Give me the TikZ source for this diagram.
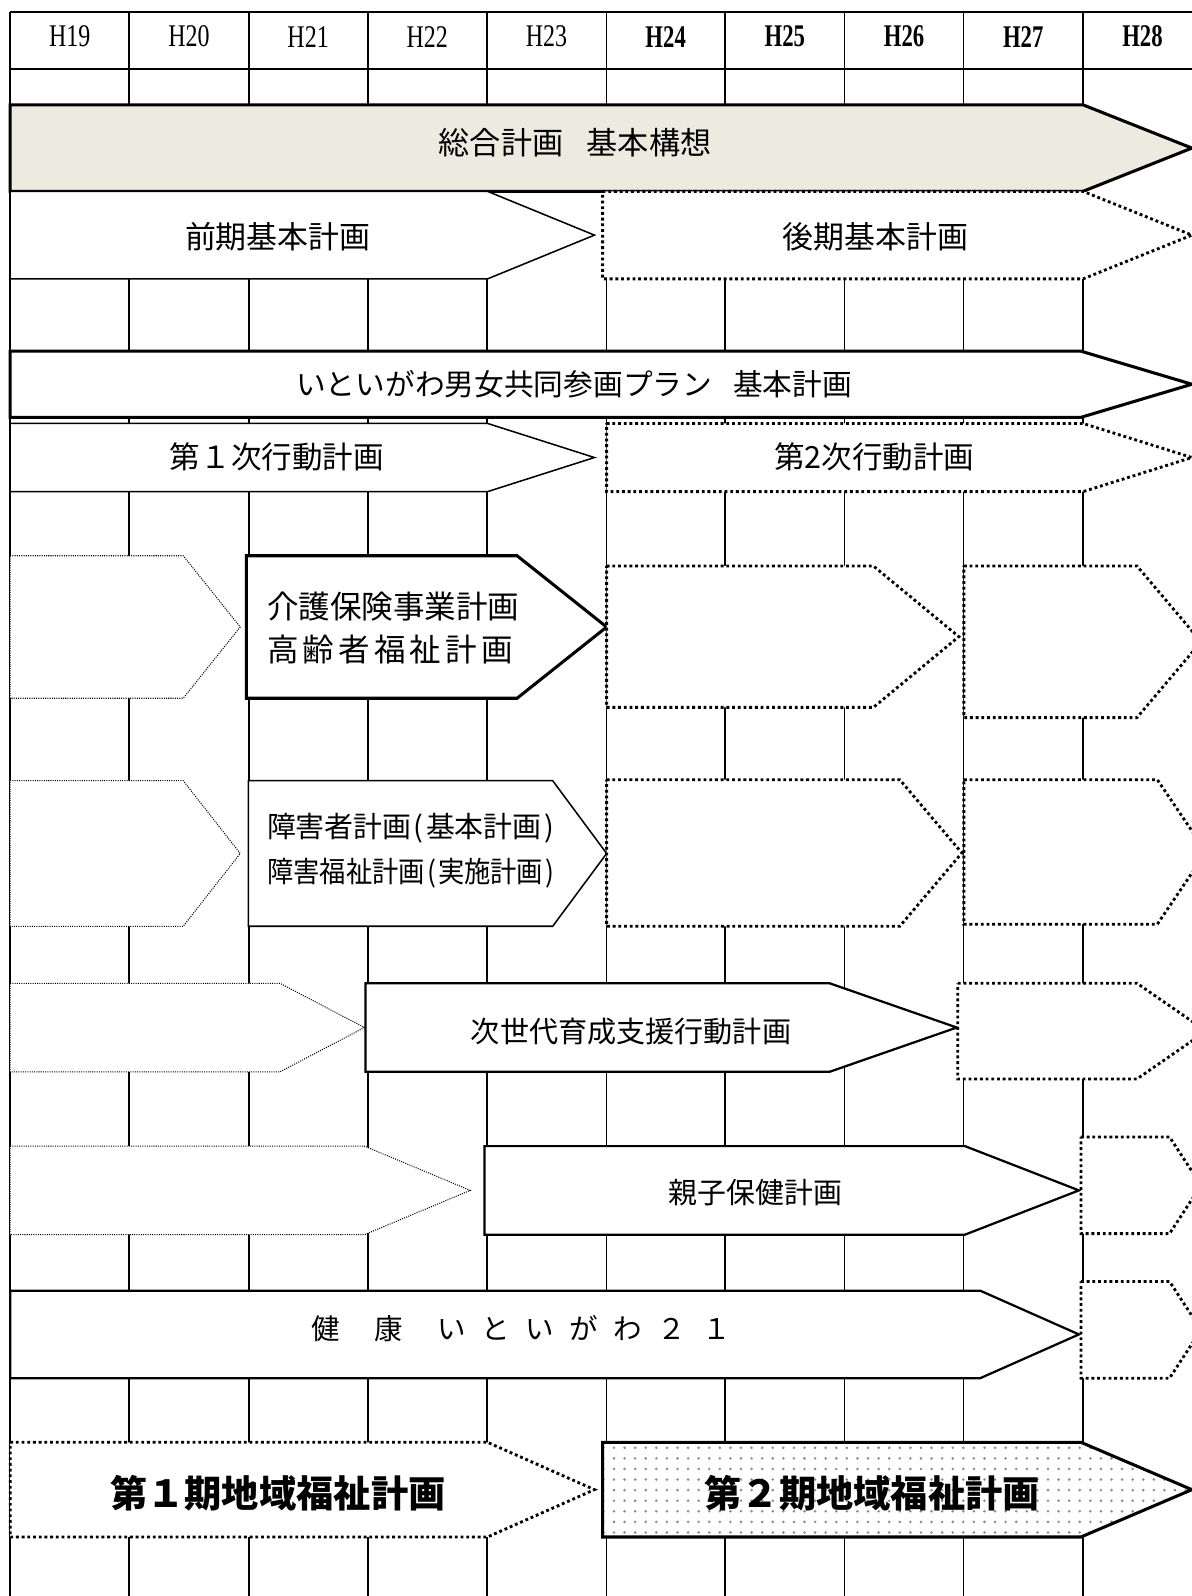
\documentclass[tikz,border=0pt]{standalone}
\usepackage{fontspec}
\usetikzlibrary{patterns.meta}
\newfontfamily\jp{Noto Sans CJK JP}
\newfontfamily\hdrfont{Liberation Serif}
\definecolor{beige}{RGB}{237,234,224}
\newcommand\pentshape[6][]{\draw[#1] (#2,#3) -- (#4,#3) -- (#5,{(#3+#6)/2}) -- (#4,#6) -- (#2,#6) -- cycle;}
\newcommand\jfs[1]{\jp\fontsize{#1}{#1}\selectfont}
\newcommand\hp[1]{\makebox[0.5em]{#1}}
\tikzset{
  gridthick/.style={line width=1pt},
  gridthin/.style={line width=0.5pt},
  solidbox/.style={draw, fill=white, line width=0.75pt, line join=miter},
  midbox/.style={draw, fill=white, line width=1.1pt, line join=miter},
  thickbox/.style={draw, fill=white, line width=1.5pt, line join=miter},
  dotbox/.style={draw, fill=white, line width=1.4pt, dash pattern=on 1.4pt off 1.4pt},
  thindot/.style={draw, fill=white, line width=0.5pt, dash pattern=on 0.5pt off 0.6pt},
  hdr/.style={inner sep=0pt, font=\hdrfont\fontsize{15.5}{15.5}\selectfont},
  lbl/.style={inner sep=0pt},
}
\begin{document}
\begin{tikzpicture}[x=0.5pt, y=-0.5pt]
\useasboundingbox (0,0) rectangle (1171,1568);
\fill[white] (0,0) rectangle (1171,1568);
% grid
\foreach \x/\s in {10/gridthick,127.1/gridthick,244.2/gridthick,361.3/gridthick,478.4/gridthick,595.5/gridthin,712.6/gridthick,829.7/gridthin,946.8/gridthin,1063.9/gridthick}
  \draw[\s] (\x,12) -- (\x,1568);
\draw[gridthick] (10,12) -- (1171,12);
\draw[gridthick] (10,68) -- (1171,68);
% header labels
\foreach \i/\t in {0/H19,1/H20,2/H21,3/H22,4/H23}
  \node[hdr] (h\i) at ({68.5+117.1*\i},36) {\scalebox{0.76}[1]{\t}};
\foreach \i/\t in {5/H24,6/H25,7/H26,8/H27,9/H28}
  \node[hdr] (h\i) at ({68.5+117.1*\i},36) {\scalebox{0.72}[1]{\bfseries\t}};
% 総合計画
\pentshape[thickbox, fill=beige]{10}{103}{1064}{1171}{188}
\node[lbl] (sogo) at (565,140) {\jfs{15.3}総合計画\hspace{0.75em}基本構想};
% 前期・後期
\pentshape[solidbox]{10}{188}{479}{584}{274}
\node[lbl] (zenki) at (273,233) {\jfs{15.2}前期基本計画};
\pentshape[dotbox]{592}{188}{1064}{1171}{274}
\node[lbl] (koki) at (860,233) {\jfs{15.2}後期基本計画};
% 男女共同参画
\pentshape[thickbox]{10}{345}{1062}{1171}{410}
\node[lbl] (danjo) at (564,377) {\jfs{14.6}いといがわ男女共同参画プラン\hspace{0.7em}基本計画};
\pentshape[solidbox]{10}{416}{479}{584}{483}
\node[lbl] (kodo1) at (272,449) {\jfs{15}第１次行動計画};
\pentshape[dotbox]{596}{416}{1064}{1171}{483}
\node[lbl] (kodo2) at (859,449) {\jfs{15}第2次行動計画};
% 介護保険
\pentshape[thindot]{10}{546}{180}{236}{686}
\pentshape[thickbox]{242}{546}{508}{596}{686}
\node[lbl, anchor=west] (kaigo1) at (262,596) {\jfs{15.5}介護保険事業計画};
\node[lbl, anchor=west] (kaigo2) at (262,638) {\jfs{15.5}高\hspace{0.13em}齢\hspace{0.13em}者\hspace{0.13em}福\hspace{0.13em}祉\hspace{0.13em}計\hspace{0.13em}画};
\pentshape[dotbox]{596}{556}{858}{942}{695}
\pentshape[dotbox]{947}{556}{1117}{1180}{705}
% 障害者
\pentshape[thindot]{10}{767}{180}{236}{910}
\pentshape[solidbox]{244}{767}{543}{596}{910}
\node[lbl, anchor=west] (shogai1) at (262,814) {\jfs{14.2}障害者計画\hp{(}基本計画\hp{)}};
\node[lbl, anchor=west] (shogai2) at (262,858) {\jfs{14.2}\scalebox{0.91}[1]{障害福祉計画\hp{(}実施計画\hp{)}}};
\pentshape[dotbox]{596}{766}{884}{945}{910}
\pentshape[dotbox]{947}{766}{1137}{1185}{908}
% 次世代
\pentshape[thindot]{10}{966}{275}{358}{1053}
\pentshape[midbox]{359}{966}{815}{940}{1053}
\node[lbl] (jisedai) at (620,1013) {\jfs{14.3}次世代育成支援行動計画};
\pentshape[dotbox]{941}{966}{1117}{1185}{1060}
% 親子保健
\pentshape[thindot]{10}{1126}{358}{462}{1213}
\pentshape[midbox]{476}{1126}{948}{1060}{1213}
\node[lbl] (oyako) at (742,1172) {\jfs{14.2}親子保健計画};
\pentshape[dotbox]{1062}{1117}{1149}{1180}{1212}
% 健康いといがわ21
\pentshape[midbox]{10}{1268}{963}{1060}{1354}
\node[lbl] (kenko) at (512,1305) {\jfs{14}健\hspace{1.2em}康\hspace{1.2em}い\hspace{0.55em}と\hspace{0.55em}い\hspace{0.55em}が\hspace{0.55em}わ\hspace{0.55em}２\hspace{0.55em}１};
\pentshape[dotbox]{1062}{1259}{1149}{1180}{1354}
% 地域福祉計画
\pentshape[dotbox]{10}{1417}{479}{584}{1510}
\node[lbl] (chiiki1) at (273,1467) {\jfs{18.3}\bfseries 第１期地域福祉計画};
\pentshape[draw, line width=1.5pt, line join=miter, preaction={fill=white}, pattern={Dots[distance=5.2pt, radius=0.7pt]}, pattern color=black!45]{592}{1417}{1062}{1171}{1510}
\node[lbl] (chiiki2) at (857,1467) {\jfs{18.3}\bfseries 第２期地域福祉計画};
\end{tikzpicture}
\end{document}
